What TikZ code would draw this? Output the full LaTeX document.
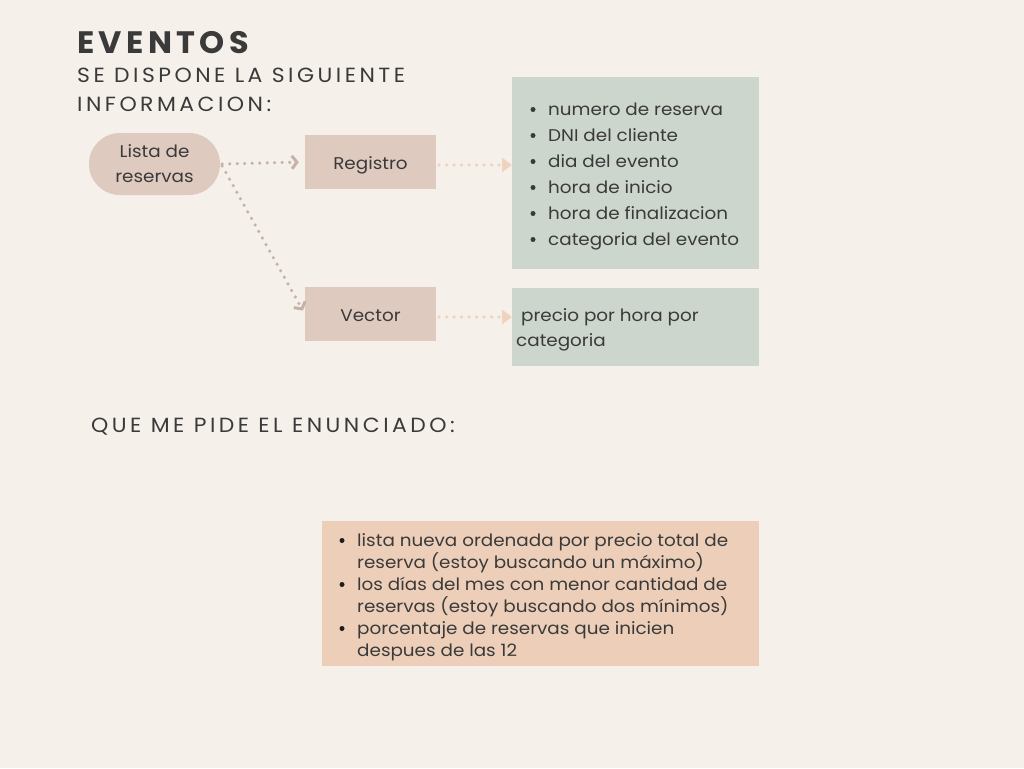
\documentclass[tikz,border=0pt]{standalone}
\usepackage{fontspec}
\setmainfont[FakeStretch=1.08]{Poppins}
\newfontfamily\spacedfont[LetterSpace=17,FakeStretch=1.07]{Poppins}
\newfontfamily\titlefont[LetterSpace=14,FakeStretch=1.03]{Poppins}
\usetikzlibrary{arrows.meta}
\definecolor{bg}{RGB}{245,240,234}
\definecolor{pinkbox}{RGB}{223,202,192}
\definecolor{greenbox}{RGB}{205,214,204}
\definecolor{orangebox}{RGB}{237,207,185}
\definecolor{txt}{RGB}{58,58,58}
\definecolor{darktxt}{RGB}{30,30,30}
\definecolor{taupe}{RGB}{199,178,169}
\definecolor{peach}{RGB}{239,211,190}
\tikzset{
  pinknode/.style={fill=pinkbox, inner sep=0pt, text=txt, font=\fontsize{17}{25}\selectfont, align=center},
  panel/.style={fill=#1, inner sep=0pt, anchor=north west},
  listtext/.style={anchor=base west, inner sep=0pt, text=txt, font=\fontsize{17}{20}\selectfont},
  dot/.style={circle, fill=#1, inner sep=0pt, minimum size=5pt},
  heading/.style={anchor=base west, inner sep=0pt, text=txt},
  taupearrow/.style={draw=taupe, line width=3.5pt, line cap=round, dash pattern=on 0pt off 7.5pt,
     -{Straight Barb[length=5pt,width=13pt,line width=3pt]}},
  peacharrow/.style={draw=peach, line width=3.5pt, line cap=round, dash pattern=on 0pt off 7.5pt,
     -{Triangle[length=10pt,width=14pt]}},
}
\begin{document}
\begin{tikzpicture}[x=1pt,y=-1pt]
\fill[bg] (0,0) rectangle (1024,768);
\useasboundingbox (0,0) rectangle (1024,768);

% headings
\node[heading, font=\titlefont\bfseries\fontsize{31}{31}\selectfont] (title) at (77,54) {EVENTOS};
\node[heading, font=\spacedfont\fontsize{20.5}{20}\selectfont] (sub1) at (77,82) {SE DISPONE LA SIGUIENTE};
\node[heading, font=\spacedfont\fontsize{20.5}{20}\selectfont] (sub2) at (77,111) {INFORMACION:};
\node[heading, font=\spacedfont\fontsize{20.5}{20}\selectfont] (sub3) at (91,432) {QUE ME PIDE EL ENUNCIADO:};

% nodes
\node[pinknode, rounded corners=31pt, minimum width=131pt, minimum height=62pt] (lista) at (154.5,164) {Lista de\\reservas};
\node[pinknode, minimum width=131pt, minimum height=54pt, text height=14pt, text depth=0pt] (registro) at (370.5,162) {Registro};
\node[pinknode, minimum width=131pt, minimum height=54pt, text height=14pt, text depth=0pt] (vector) at (370.5,314) {Vector};

% panels
\node[panel=greenbox, minimum width=247pt, minimum height=192pt] (info) at (512,77) {};
\node[panel=greenbox, minimum width=247pt, minimum height=78pt] (precio) at (512,288) {};
\node[panel=orangebox, minimum width=437pt, minimum height=145pt] (pide) at (322,521) {};

% green list
\foreach \t [count=\i] in {numero de reserva, DNI del cliente, dia del evento, hora de inicio, hora de finalizacion, categoria del evento}{
  \node[dot=txt] (b\i) at (533,{115+26*(\i-1)-5.5}) {};
  \node[listtext] (l\i) at (548,{115+26*(\i-1)}) {\t};
}
\node[listtext] (p1) at (516,321) {\ precio por hora por};
\node[listtext] (p2) at (516,346) {categoria};

% orange list
\begin{scope}[every node/.append style={text=darktxt}]
\node[dot=darktxt] (ob1) at (342,540.5) {};
\node[listtext] (o1) at (357,546) {lista nueva ordenada por precio total de};
\node[listtext] (o2) at (357,568) {reserva (estoy buscando un máximo)};
\node[dot=darktxt] (ob2) at (342,584.5) {};
\node[listtext] (o3) at (357,590) {los días del mes con menor cantidad de};
\node[listtext] (o4) at (357,612) {reservas (estoy buscando dos mínimos)};
\node[dot=darktxt] (ob3) at (342,628.5) {};
\node[listtext] (o5) at (357,634) {porcentaje de reservas que inicien};
\node[listtext] (o6) at (357,656) {despues de las 12};
\end{scope}

% connectors
\draw[taupearrow, shorten >=6pt] ([xshift=2pt]lista.east) -- (registro.west);
\draw[taupearrow, shorten >=4pt] ([xshift=2pt,yshift=-2pt]lista.east) -- (vector.west);
\draw[peacharrow] ([xshift=3pt,yshift=-3pt]registro.east) -- ([yshift=-3pt]registro.east -| info.west);
\draw[peacharrow] ([xshift=3pt,yshift=-3pt]vector.east) -- ([yshift=-3pt]vector.east -| precio.west);
\end{tikzpicture}
\end{document}
